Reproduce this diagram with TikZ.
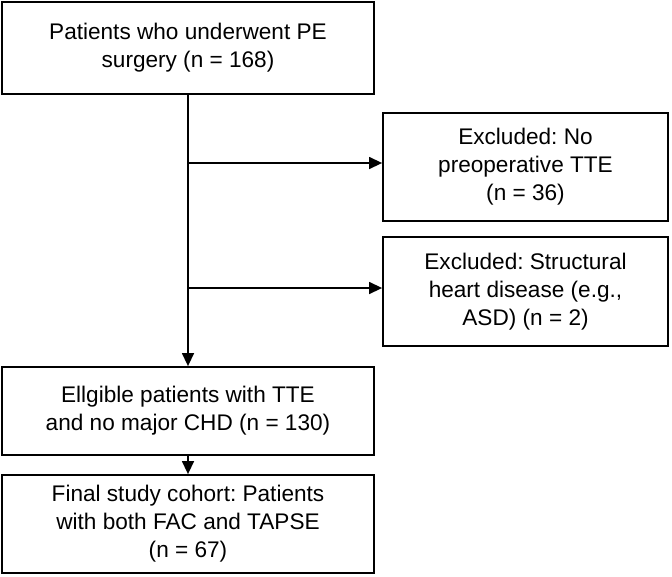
\documentclass[tikz,border=0pt]{standalone}
\usepackage{fontspec}
\setmainfont{Liberation Sans}
\usetikzlibrary{arrows.meta}
\frenchspacing

\begin{document}
\begin{tikzpicture}[x=1pt, y=-1pt,
    flowbox/.style={draw, line width=1.8pt, align=center, inner sep=0pt,
        font=\fontsize{22.6}{28}\selectfont},
    mainbox/.style={flowbox, minimum width=372pt},
    sidebox/.style={flowbox, minimum width=285pt},
    flowarrow/.style={line width=1.4pt, -{Triangle[length=13pt,width=12pt]}}]
    \useasboundingbox (0,0) rectangle (672,576);

    \node[mainbox, minimum height=92pt] (surgery) at (188,48) {Patients who underwent PE\\surgery (n = 168)};
    \node[sidebox, minimum height=108pt] (nopreop) at (525.5,167) {Excluded: No\\preoperative TTE\\(n = 36)};
    \node[sidebox, minimum height=109pt] (structural) at (525.5,291.5) {Excluded: Structural\\heart disease (e.g.,\\ASD) (n = 2)};
    \node[mainbox, minimum height=88pt] (eligible) at (188,411) {Ellgible patients with TTE\\and no major CHD (n = 130)};
    \node[mainbox, minimum height=98pt] (cohort) at (188,524) {Final study cohort: Patients\\with both FAC and TAPSE\\(n = 67)};

    \coordinate (split1) at (188,163);
    \coordinate (split2) at (188,288);

    \draw[flowarrow] (surgery.south) -- (eligible.north);
    \draw[flowarrow] (split1) -- (split1 -| nopreop.west);
    \draw[flowarrow] (split2) -- (split2 -| structural.west);
    \draw[flowarrow] (eligible.south) -- (cohort.north);
\end{tikzpicture}
\end{document}
